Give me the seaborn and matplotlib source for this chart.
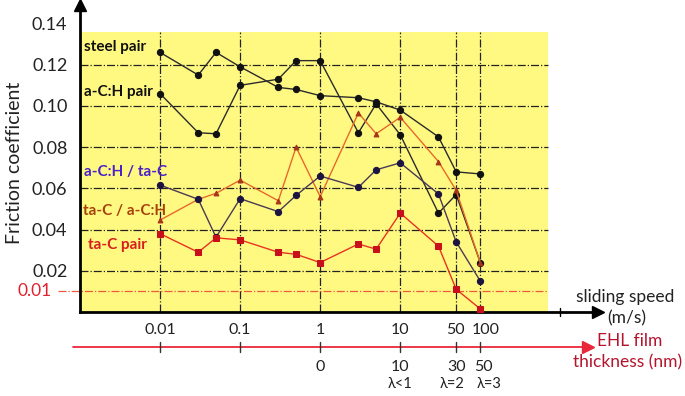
import numpy as np
import pandas as pd
import matplotlib
matplotlib.use("Agg")
import matplotlib.pyplot as plt
import matplotlib.transforms as mtransforms
import seaborn as sns

# data
speed = [0.01, 0.03, 0.05, 0.1, 0.3, 0.5, 1, 3, 5, 10, 30, 50, 100]
steel_pair = [0.126, 0.115, 0.126, 0.119, 0.109, 0.108, 0.105, 0.104, 0.102, 0.098, 0.085, 0.068, 0.067]
ach_pair = [0.106, 0.087, 0.0865, 0.110, 0.113, 0.122, 0.122, 0.087, 0.101, 0.086, 0.048, 0.057, 0.024]
ach_tac = [0.0616, 0.0547, 0.0363, 0.055, 0.0487, 0.0566, 0.066, 0.0605, 0.069, 0.0724, 0.0573, 0.034, 0.015]
tac_ach = [0.0446, 0.0547, 0.0576, 0.064, 0.054, 0.080, 0.056, 0.0966, 0.0865, 0.0945, 0.073, 0.059, 0.024]
tac_pair = [0.038, 0.029, 0.036, 0.035, 0.029, 0.028, 0.024, 0.033, 0.0305, 0.048, 0.032, 0.011, 0.0015]

speed_ticks = [0.01, 0.1, 1, 10, 50, 100]
speed_labels = ["0.01", "0.1", "1", "10", "50", "100"]
film_ticks = [1, 10, 50, 100]
film_labels = ["0", "10", "30", "50"]
lambda_ticks = [10, 50, 100]
lambda_labels = ["λ<1", "λ=2", "λ=3"]
y_ticks = [0.02, 0.04, 0.06, 0.08, 0.10, 0.12, 0.14]

sns.set_style("white")
plt.rcParams["font.family"] = ["Lato", "DejaVu Sans"]

W, H = 685, 396
fig = plt.figure(figsize=(W / 100, H / 100), dpi=100)
ax = fig.add_axes([80 / W, 1 - 312 / H, 518 / W, 307 / H])
ax.set_facecolor("none")
ax.set_xscale("log")
ax.set_xlim(1e-3, 10 ** 3.47)
ax.set_ylim(0, 0.149)

yellow = "#fff982"
x_end = 10 ** 2.85
y_top = 0.1357
ax.fill_between([1e-3, x_end], 0, y_top, color=yellow, zorder=0, lw=0)

# dash-dot grid inside the yellow area
for yv in [0.02, 0.04, 0.06, 0.08, 0.10, 0.12]:
    ax.plot([1e-3, x_end], [yv, yv], color="#222222", lw=0.9, ls="-.", zorder=1)
for xv in speed_ticks:
    ax.plot([xv, xv], [0, y_top], color="#222222", lw=0.9, ls="-.", zorder=1)
ax.plot([10 ** -3.28, x_end], [0.01, 0.01], color="#f05a3c", lw=0.9, ls="-.",
        zorder=1, clip_on=False)

series = [
    (steel_pair, "#2b2b2b", "#111111", "o", 4.5),
    (ach_pair, "#2b2b2b", "#111111", "o", 4.5),
    (tac_ach, "#e8692a", "#a8341a", "^", 3.5),
    (ach_tac, "#4a3a55", "#1c1440", "o", 4.5),
    (tac_pair, "#e8341f", "#c8101c", "s", 4.5),
]
for vals, lc, mc, mk, ms in series:
    df = pd.DataFrame({"speed": speed, "mu": vals})
    sns.lineplot(data=df, x="speed", y="mu", ax=ax, color=lc, lw=1.0,
                 marker=mk, markersize=ms, markerfacecolor=mc,
                 markeredgecolor=mc, zorder=3)

# axes styling
for s in ["top", "right"]:
    ax.spines[s].set_visible(False)
for s in ["left", "bottom"]:
    ax.spines[s].set_linewidth(2)
    ax.spines[s].set_color("black")
ax.plot(1, 0, ">k", transform=ax.transAxes, clip_on=False, ms=9)
ax.plot(0, 1, "^k", transform=ax.transAxes, clip_on=False, ms=9)
ax.plot([1000, 1000], [-0.002, 0.002], color="black", lw=1, clip_on=False)

ax.set_yticks(y_ticks)
ax.set_yticklabels([f"{v:.2f}" for v in y_ticks], fontsize=13, color="#222222")
ax.set_xticks(speed_ticks)
ax.set_xticklabels([])
ax.xaxis.set_minor_locator(matplotlib.ticker.NullLocator())
ax.tick_params(axis="y", length=0, pad=9)
ax.tick_params(axis="x", length=0)
ax.set_xlabel("")
ax.set_ylabel("")
fig.text(15 / W, 1 - 163 / H, "Friction coefficient", rotation=90,
         fontsize=14, color="#222222", ha="center", va="center")

fig.text(52 / W, 1 - 291 / H, "0.01", color="#e0202e", fontsize=12.5,
         ha="right", va="center")

xt = ax.get_xaxis_transform()


def shifted(dx_px):
    return xt + mtransforms.ScaledTranslation(dx_px / 100, 0, fig.dpi_scale_trans)


# sliding speed labels (the last two are nudged apart as in the reference)
speed_shift = [0, 0, 0, 0, -1, 5]
for xv, lab, dx in zip(speed_ticks, speed_labels, speed_shift):
    ax.text(xv, -0.059, lab, transform=shifted(dx), ha="center", va="center",
            fontsize=11.5, color="#222222")

# EHL film thickness axis
ax.plot([10 ** -3.09, 10 ** 3.3], [-0.114, -0.114], color="#e8283a", lw=1.3,
        transform=xt, clip_on=False)
ax.plot(10 ** 3.35, -0.114, ">", color="#e8283a", ms=8, transform=xt, clip_on=False)
for xv in speed_ticks:
    ax.plot([xv, xv], [-0.098, -0.131], color="#333333", lw=1, transform=xt,
            clip_on=False)
film_shift = [0, 0, 0, 3]
for xv, lab, dx in zip(film_ticks, film_labels, film_shift):
    ax.text(xv, -0.178, lab, transform=shifted(dx), ha="center", va="center",
            fontsize=11.5, color="#222222")
lambda_shift = [0, -4, 9]
for xv, lab, dx in zip(lambda_ticks, lambda_labels, lambda_shift):
    ax.text(xv, -0.236, lab, transform=shifted(dx), ha="center", va="center",
            fontsize=10.5, color="#222222")

fig.text(625 / W, 1 - 297 / H, "sliding speed", fontsize=12.5, ha="center",
         va="center", color="#222222")
fig.text(627 / W, 1 - 318 / H, "(m/s)", fontsize=12.5, ha="center",
         va="center", color="#222222")
fig.text(630 / W, 1 - 341 / H, "EHL film", fontsize=12.5, ha="center",
         va="center", color="#b5142e")
fig.text(628 / W, 1 - 362 / H, "thickness (nm)", fontsize=12.5, ha="center",
         va="center", color="#b5142e")

# series labels
lbls = [
    ("steel pair", 84, 47, "#111111"),
    ("a-C:H pair", 84, 92, "#111111"),
    ("a-C:H / ta-C", 84, 172, "#4a22c8"),
    ("ta-C / a-C:H", 83, 211, "#a8420c"),
    ("ta-C pair", 88, 245, "#d81e1e"),
]
for t, x, y, c in lbls:
    fig.text(x / W, 1 - y / H, t, fontsize=11, fontweight="bold", color=c,
             ha="left", va="center")

fig.savefig("out.png", dpi=100)
